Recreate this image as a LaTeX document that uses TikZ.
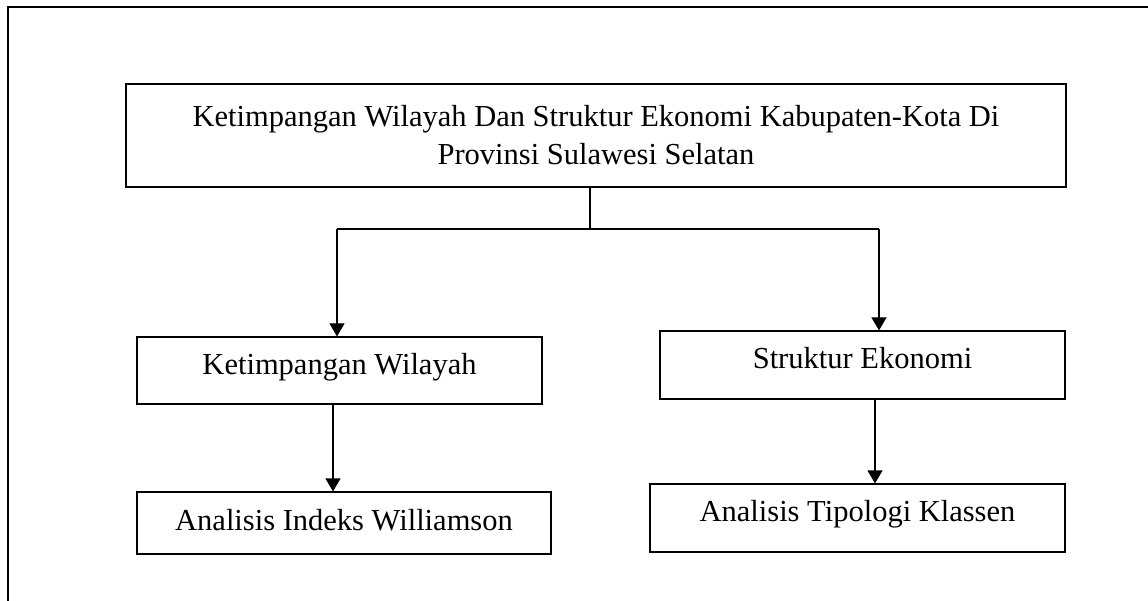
\documentclass[tikz,border=0pt]{standalone}
\usepackage{fontspec}
\setmainfont{Liberation Serif}
\usetikzlibrary{arrows.meta}
\begin{document}
\begin{tikzpicture}[x=1pt,y=-1pt,
  box/.style={draw,line width=1.2pt,rectangle,inner sep=0pt,text height=21pt,
    font=\fontsize{30.5}{38}\selectfont},
  conn/.style={line width=1.2pt},
  arr/.style={line width=1.2pt,-{Triangle[width=15pt,length=13pt]}}]
\useasboundingbox (0,0) rectangle (1148,601);
\draw[line width=1.4pt] (8,601) -- (8,7) -- (1148,7);
\node[box,minimum width=940pt,minimum height=103pt,align=center,text height=,text depth=] (top) at (596,135.5)
  {Ketimpangan Wilayah Dan Struktur Ekonomi Kabupaten-Kota Di\\Provinsi Sulawesi Selatan};
\node[box,minimum width=405pt,minimum height=67pt,text depth=14pt] (kw) at (339.5,370.5) {Ketimpangan Wilayah};
\node[box,minimum width=405pt,minimum height=68pt,text depth=13pt] (se) at (862.5,365) {Struktur Ekonomi};
\node[box,minimum width=414pt,minimum height=62pt,text depth=5.5pt] (aiw) at (344,523) {Analisis Indeks Williamson};
\node[box,minimum width=415pt,minimum height=68pt,text depth=13.6pt] (atk) at (857.5,518) {Analisis Tipologi Klassen};
\coordinate (j) at (590,229);
\coordinate (jl) at (337,229);
\coordinate (jr) at (879,229);
\coordinate (kl) at (333,0);
\coordinate (sr) at (875,0);
\draw[conn] (top.south -| j) -- (j);
\draw[conn] (jl) -- (jr);
\draw[arr] (jl) -- (jl |- kw.north);
\draw[arr] (jr) -- (jr |- se.north);
\draw[arr] (kl |- kw.south) -- (kl |- aiw.north);
\draw[arr] (sr |- se.south) -- (sr |- atk.north);
\end{tikzpicture}
\end{document}
